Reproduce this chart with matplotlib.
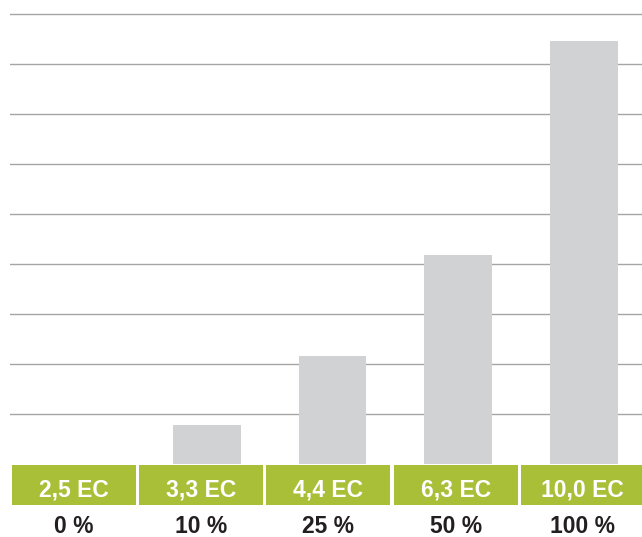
import numpy as np
import matplotlib.pyplot as plt

plt.rcParams['font.family'] = ['Liberation Sans', 'DejaVu Sans']

percent = ['0 %', '10 %', '25 %', '50 %', '100 %']
ec_labels = ['2,5 EC', '3,3 EC', '4,4 EC', '6,3 EC', '10,0 EC']
heights = [0.0, 0.78, 2.16, 4.18, 8.46]

W, H = 642, 537
fig = plt.figure(figsize=(W / 100, H / 100), dpi=100)

# bar area (pixels: x 10..642, y 0..464)
ax = fig.add_axes([10 / W, (H - 464) / H, 632 / W, 464 / H])
x = np.arange(len(percent))
ax.bar(x, heights, width=0.54, color='#d1d2d4', zorder=2)
ax.set_xlim(-0.5646, 4.461)
ax.set_ylim(0, 9.28)
ax.set_yticks(np.arange(1, 10))
ax.yaxis.grid(True, color='#a5a5a5', linewidth=1.0, zorder=0)
ax.set_axisbelow(True)
ax.tick_params(left=False, bottom=False, labelleft=False, labelbottom=False)
for s in ax.spines.values():
    s.set_visible(False)

# green label band (pixels: y 465..505)
band = fig.add_axes([0, (H - 505) / H, 1, 40 / H])
band.bar(x, [1] * len(x), width=0.975, bottom=0, color='#a9bf38')
band.set_xlim(-0.582, 4.465)
band.set_ylim(0, 1)
band.axis('off')
for i in range(len(x)):
    band.text(x[i], 0.225, ec_labels[i], ha='center', va='baseline',
              color='white', fontsize=16.5, fontweight='bold')
    band.text(x[i], -0.7, percent[i], ha='center', va='baseline',
              color='#231f20', fontsize=16.5, fontweight='bold', clip_on=False)

fig.savefig('out.png', dpi=100)
